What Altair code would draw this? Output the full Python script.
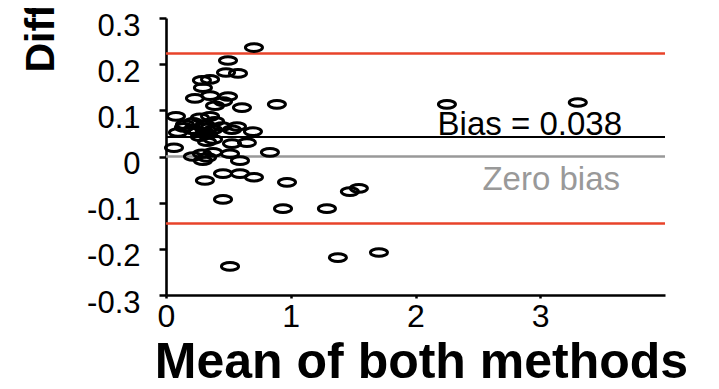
import altair as alt
import pandas as pd

# Bland-Altman data
mean_vals = [0.705, 0.497, 0.481, 0.577, 0.288, 0.353, 0.296, 0.232, 0.353, 0.497,
             0.457, 0.393, 0.609, 0.889, 0.080, 0.152, 0.216, 0.272, 0.353, 0.096,
             0.144, 0.208, 0.296, 0.377, 0.449, 0.529, 0.569, 0.272, 0.337, 0.329,
             0.377, 0.697, 0.064, 0.529, 0.649, 0.216, 0.288, 0.377, 0.296, 0.513,
             0.593, 0.833, 0.312, 0.457, 0.593, 0.705, 0.970, 0.457, 0.938, 1.290,
             1.474, 1.546, 0.513, 1.378, 1.707, 2.252, 3.301, 0.329, 0.312, 0.393,
             0.312, 0.256, 0.353]
diff_vals = [0.236, 0.208, 0.182, 0.180, 0.165, 0.167, 0.149, 0.126, 0.132, 0.130,
             0.119, 0.110, 0.106, 0.113, 0.087, 0.069, 0.074, 0.084, 0.087, 0.052,
             0.063, 0.058, 0.063, 0.058, 0.065, 0.058, 0.065, 0.043, 0.048, 0.032,
             0.037, 0.054, 0.019, 0.028, 0.030, 0.000, 0.006, 0.009, -0.009, 0.006,
             -0.009, 0.009, -0.052, -0.037, -0.037, -0.045, -0.056, -0.093, -0.113, -0.113,
             -0.076, -0.069, -0.238, -0.219, -0.208, 0.113, 0.117, -0.002, 0.069, 0.076,
             0.052, 0.054, 0.063]

bias_line = [0.042]
limits = [0.223, -0.145]
zero_line = [0.0]
x_ticks = [0, 1, 2, 3]
y_ticks = [-0.3, -0.2, -0.1, 0, 0.1, 0.2, 0.3]
labels = ["Bias = 0.038", "Zero bias"]

FONT = "Liberation Sans"

pts = pd.DataFrame({"mean": mean_vals, "diff": diff_vals})

xscale = alt.Scale(domain=[0, 4], nice=False, zero=False)
yscale = alt.Scale(domain=[-0.3, 0.3], nice=False, zero=False)

ellipse = ("M -1 0 C -1 -0.2485 -0.5523 -0.45 0 -0.45 C 0.5523 -0.45 1 -0.2485 1 0 "
           "C 1 0.2485 0.5523 0.45 0 0.45 C -0.5523 0.45 -1 0.2485 -1 0 Z")

base_points = alt.Chart(pts).mark_point(
    shape=ellipse, size=290, filled=False, stroke="black", strokeWidth=3, opacity=1
).encode(
    x=alt.X("mean:Q", scale=xscale,
            axis=alt.Axis(values=x_ticks, title="Mean of both methods", tickSize=3,
                          labelFontSize=32, labelPadding=3, labelFlush=False,
                          titleFontSize=50, titleFontWeight="bold",
                          titleBaseline="alphabetic", titleY=82, titleX=255,
                          titleAlign="center")),
    y=alt.Y("diff:Q", scale=yscale,
            axis=alt.Axis(values=y_ticks, title="Difference between methods",
                          tickSize=7, labelFontSize=31, labelPadding=19,
                          labelBaseline="middle", labelOffset=8,
                          labelExpr="datum.value == 0 ? '0' : (datum.value < 0 ? '-' + format(-datum.value, '.1f') : format(datum.value, '.1f'))",
                          titleFontSize=41, titleFontWeight="bold", titleAngle=270,
                          titleAlign="left", titleBaseline="alphabetic",
                          titleX=-113, titleY=54)),
)

red = alt.Chart(pd.DataFrame({"y": limits})).mark_rule(
    color="#E8432A", strokeWidth=2.4
).encode(y=alt.Y("y:Q", scale=yscale))

zero = alt.Chart(pd.DataFrame({"y": zero_line})).mark_rule(
    color="#999999", strokeWidth=2.5
).encode(y=alt.Y("y:Q", scale=yscale))

bias = alt.Chart(pd.DataFrame({"y": bias_line})).mark_rule(
    color="black", strokeWidth=2
).encode(y=alt.Y("y:Q", scale=yscale))

bias_text = alt.Chart(pd.DataFrame({"t": [labels[0]]})).mark_text(
    align="right", baseline="alphabetic", fontSize=33, font=FONT, color="black"
).encode(x=alt.value(456), y=alt.value(117), text="t:N")

zero_text = alt.Chart(pd.DataFrame({"t": [labels[1]]})).mark_text(
    align="right", baseline="alphabetic", fontSize=33, font=FONT, color="#999999"
).encode(x=alt.value(454), y=alt.value(172), text="t:N")

chart = alt.layer(red, zero, bias, bias_text, zero_text, base_points).properties(
    width=499, height=277,
    padding={"left": 158, "top": 10, "right": 40, "bottom": 92},
    autosize=alt.AutoSizeParams(type="none"),
).configure_view(stroke=None).configure_axis(
    grid=False, domainColor="black", domainWidth=2.6, tickColor="black",
    tickWidth=2.5, labelColor="black", titleColor="black",
    labelFont=FONT, titleFont=FONT,
).configure_text(font=FONT)

chart.save("out.html", embed_options={"renderer": "svg", "actions": False})
